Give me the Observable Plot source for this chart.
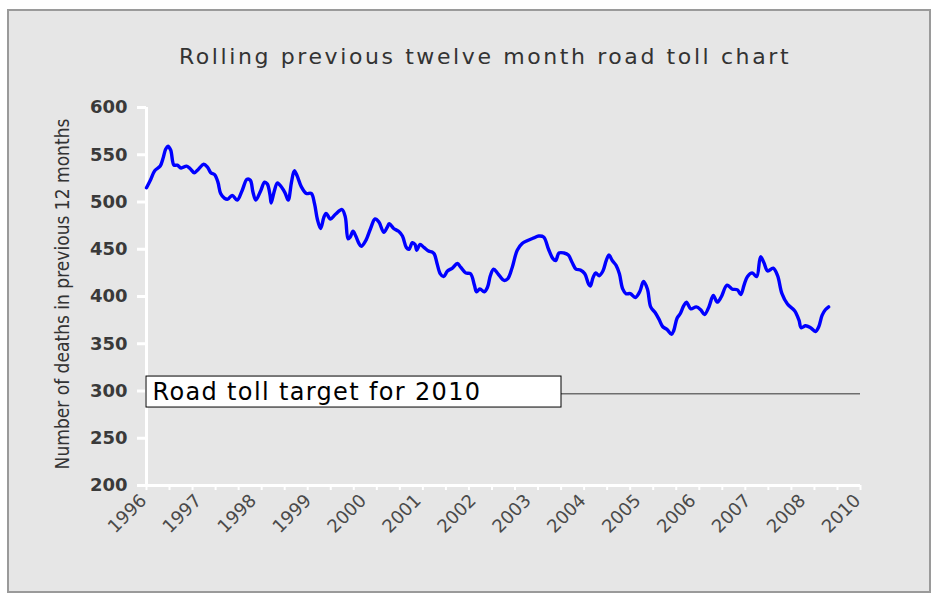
<!DOCTYPE html>
<html>
<head>
<meta charset="utf-8">
<script src="https://cdn.jsdelivr.net/npm/d3@7"></script>
<script src="https://cdn.jsdelivr.net/npm/@observablehq/plot@0.6"></script>
<style>
  html, body { margin: 0; padding: 0; background: #ffffff; }
  #page { position: relative; width: 933px; height: 596px; overflow: hidden; }
  #panel { position: absolute; left: 7px; top: 9px; width: 924px; height: 584px; box-sizing: border-box;
           border: 2px solid #9a9a9a; background: #e6e6e6; }
  #title { position: absolute; left: 0; top: 44px; width: 970px; text-align: center; white-space: nowrap;
           font-family: "DejaVu Sans", sans-serif; font-size: 22px; letter-spacing: 2.6px; color: #333; }
  #ylabel { position: absolute; left: -138px; top: 282px; width: 400px; height: 24px; line-height: 24px;
           text-align: center; white-space: nowrap; transform: rotate(-90deg);
           font-family: "DejaVu Sans Condensed", "DejaVu Sans", sans-serif; font-stretch: condensed;
           font-size: 19px; color: #333; }
  #chart { position: absolute; left: 0; top: 80px; }
  #chart svg { background: transparent; overflow: visible; }
</style>
</head>
<body>
<div id="page">
  <div id="panel"></div>
  <div id="title"></div>
  <div id="ylabel"></div>
  <div id="chart"></div>
</div>
<script>
// ---- data ----
const titleText = "Rolling previous twelve month road toll chart";
const yLabel = "Number of deaths in previous 12 months";
const xTickLabels = ["1996","1997","1998","1999","2000","2001","2002","2003","2004","2005","2006","2007","2008","2010"];
const yTicks = [200, 250, 300, 350, 400, 450, 500, 550, 600];
const minorTickCount = 31;
const targetValue = 297;
const targetLabel = "Road toll target for 2010";

// position along the category axis (0 = "1996" tick, 13 = "2010" tick)
const pos = [0.00,0.07,0.15,0.25,0.30,0.35,0.39,0.44,0.50,0.56,0.63,0.73,0.80,0.87,0.95,1.04,1.11,1.17,1.24,1.30,
  1.35,1.42,1.48,1.56,1.65,1.74,1.83,1.89,1.94,1.99,2.08,2.15,2.20,2.25,2.27,2.32,2.38,2.41,2.52,2.58,
  2.64,2.69,2.74,2.82,2.91,3.00,3.06,3.11,3.17,3.23,3.27,3.35,3.44,3.56,3.62,3.67,3.71,3.76,3.81,3.87,
  3.91,3.99,4.08,4.16,4.23,4.32,4.38,4.42,4.50,4.59,4.66,4.73,4.78,4.84,4.89,4.92,4.98,5.05,5.14,5.20,
  5.24,5.29,5.35,5.41,5.48,5.57,5.66,5.72,5.81,5.90,5.97,6.01,6.07,6.15,6.21,6.26,6.32,6.40,6.51,6.58,
  6.66,6.75,6.84,6.93,7.05,7.14,7.23,7.32,7.40,7.45,7.51,7.60,7.68,7.75,7.82,7.90,7.98,8.05,8.08,8.13,
  8.18,8.24,8.31,8.37,8.42,8.48,8.55,8.61,8.67,8.73,8.81,8.90,8.98,9.05,9.12,9.18,9.26,9.33,9.40,9.48,
  9.56,9.60,9.66,9.72,9.78,9.83,9.91,10.01,10.09,10.16,10.24,10.32,10.39,10.46,10.57,10.66,10.76,10.82,10.88,10.94,
  11.03,11.11,11.18,11.24,11.31,11.41,11.49,11.57,11.67,11.80,11.88,11.92,12.00,12.09,12.18,12.24,12.30,12.36,12.42];
const deaths = [515,523,533,538,546,556,559,555,539,539,536,538,535,531,535,540,537,531,529,521,
  509,504,503,507,502,512,524,523,510,502,512,521,519,507,499,510,520,519,510,502,
  521,533,528,516,509,509,498,482,472,484,488,482,487,492,484,461,463,469,464,456,
  453,459,472,482,479,468,473,477,472,469,464,452,450,457,455,449,455,452,448,447,
  445,435,424,421,427,430,435,431,425,424,412,405,408,405,410,422,429,424,417,419,
  431,449,456,459,462,464,463,450,440,438,446,446,444,436,429,428,424,413,411,420,
  425,422,427,438,444,438,433,424,408,403,403,399,405,416,408,389,383,376,368,365,
  360,364,377,382,390,394,387,389,386,381,389,401,394,399,412,408,407,402,412,421,
  425,421,442,436,427,430,422,403,392,385,375,367,369,367,363,368,380,386,389];

const series = pos.map((p, i) => ({pos: p, deaths: deaths[i]}));
const xLabelRows = xTickLabels.map((t, i) => ({i, t}));
const minorTicks = d3.range(minorTickCount + 1).map(k => k * (xTickLabels.length - 1) / minorTickCount);

// ---- layout ----
const W = 933, H = 500;
const mL = 146, mR = 73, mT = 27, mB = 95;
const pxPerX = (W - mL - mR) / (xTickLabels.length - 1);
const pxPerY = (H - mT - mB) / (600 - 200);
const yTickLen = 9 / pxPerX;
const xTickLen = 5 / pxPerY;
const boxEnd = 415 / pxPerX;

const chart = Plot.plot({
  width: W, height: H,
  marginLeft: mL, marginRight: mR, marginTop: mT, marginBottom: mB,
  x: {domain: [0, xTickLabels.length - 1], axis: null},
  y: {domain: [200, 600], axis: null},
  style: {background: "transparent", overflow: "visible"},
  marks: [
    // target line
    Plot.ruleY([targetValue], {x1: 0, x2: xTickLabels.length - 1, stroke: "#6e6e6e", strokeWidth: 1.5}),
    // axes (white)
    Plot.ruleX([0], {y1: 200, y2: 600, stroke: "white", strokeWidth: 3}),
    Plot.ruleY([200], {x1: 0, x2: xTickLabels.length - 1, stroke: "white", strokeWidth: 3}),
    Plot.ruleY(yTicks, {y: d => d, x1: -yTickLen, x2: 0, stroke: "white", strokeWidth: 3}),
    Plot.ruleX(minorTicks, {x: d => d, y1: 200, y2: 200 - xTickLen, stroke: "white", strokeWidth: 2}),
    // y tick labels
    Plot.text(yTicks, {x: 0, y: d => d, text: d => String(d), textAnchor: "end", dx: -19,
      fontSize: 18, fontFamily: "DejaVu Sans, sans-serif", fill: "#3a3a3a", fontWeight: "bold"}),
    // x tick labels
    Plot.text(xLabelRows, {x: "i", y: 200, text: "t", rotate: -45, textAnchor: "end", dx: -3, dy: 12,
      fontSize: 18, fontFamily: "DejaVu Sans, sans-serif", fill: "#4a4a4a"}),
    // data line
    Plot.line(series, {x: "pos", y: "deaths", stroke: "#0000ff", strokeWidth: 3.4, curve: "catmull-rom"}),
    // annotation box
    Plot.rect([targetValue], {x1: 0, x2: boxEnd, y1: d => d - 14.5, y2: d => d + 18.3,
      fill: "white", stroke: "black", strokeWidth: 1}),
    Plot.text([targetLabel], {x: 0, y: targetValue, text: d => d, textAnchor: "start", dx: 6, dy: -2,
      fontSize: 24, fontFamily: "DejaVu Sans, sans-serif", fill: "black"})
  ]
});
// widen tracking of the annotation label as in the reference
chart.querySelectorAll("text").forEach(t => {
  if (t.textContent === targetLabel) t.style.letterSpacing = "1.35px";
});
document.getElementById("chart").appendChild(chart);
document.getElementById("title").textContent = titleText;
document.getElementById("ylabel").textContent = yLabel;
</script>
</body>
</html>
